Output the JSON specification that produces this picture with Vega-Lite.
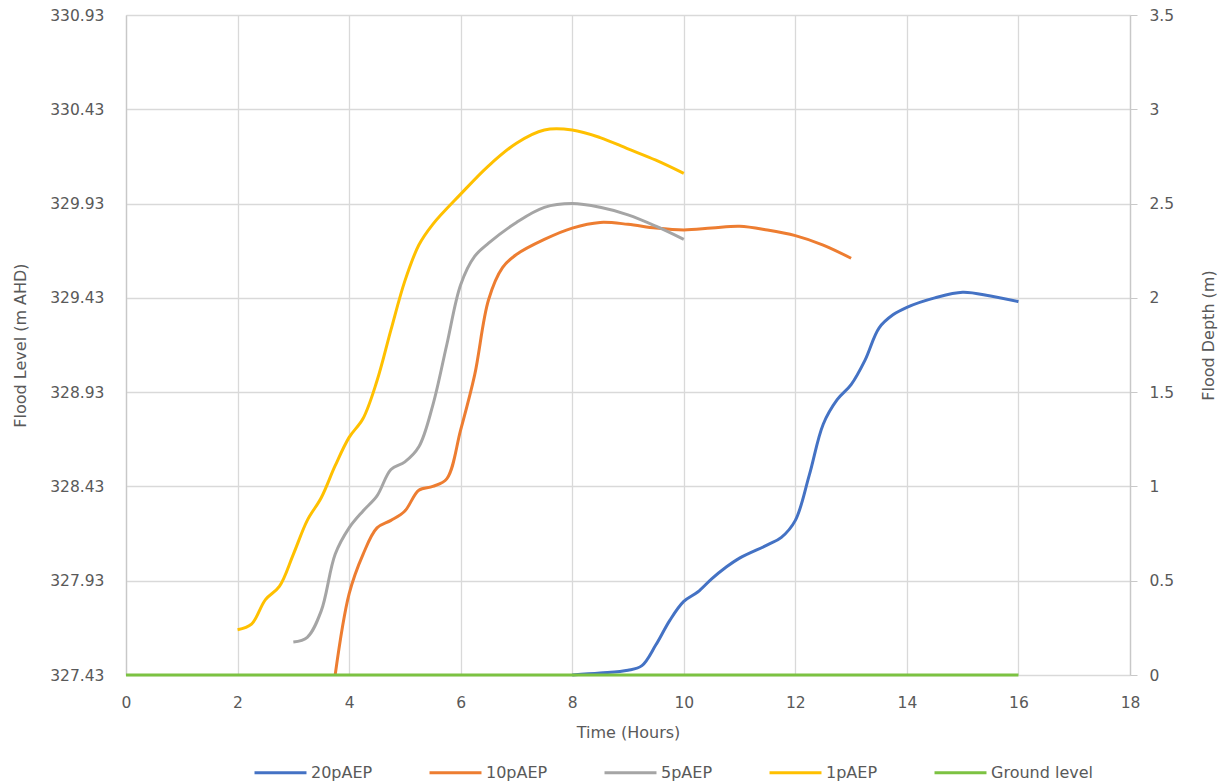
{
  "$schema": "https://vega.github.io/schema/vega-lite/v6.json",
  "width": 1004,
  "height": 660,
  "autosize": "none",
  "padding": {"left": 126, "top": 15, "right": 98, "bottom": 109},
  "background": "white",
  "config": {
    "view": {"stroke": null},
    "font": "DejaVu Sans",
    "axis": {
      "labelColor": "#595959",
      "titleColor": "#595959",
      "labelFontSize": 15.5,
      "titleFontSize": 16,
      "titleFontWeight": "normal",
      "gridColor": "#d9d9d9",
      "gridWidth": 1.3,
      "domainColor": "#c8c8c8",
      "domainWidth": 1.3,
      "tickColor": "#c8c8c8"
    }
  },
  "data": {
    "values": [
      {"series": "20pAEP", "t": 8.0, "depth": 0.0},
      {"series": "20pAEP", "t": 8.5, "depth": 0.01},
      {"series": "20pAEP", "t": 9.0, "depth": 0.025},
      {"series": "20pAEP", "t": 9.25, "depth": 0.05},
      {"series": "20pAEP", "t": 9.5, "depth": 0.16},
      {"series": "20pAEP", "t": 9.75, "depth": 0.29},
      {"series": "20pAEP", "t": 10.0, "depth": 0.39},
      {"series": "20pAEP", "t": 10.25, "depth": 0.44},
      {"series": "20pAEP", "t": 10.5, "depth": 0.51},
      {"series": "20pAEP", "t": 10.75, "depth": 0.57},
      {"series": "20pAEP", "t": 11.0, "depth": 0.62},
      {"series": "20pAEP", "t": 11.5, "depth": 0.69},
      {"series": "20pAEP", "t": 11.75, "depth": 0.73},
      {"series": "20pAEP", "t": 12.0, "depth": 0.82},
      {"series": "20pAEP", "t": 12.25, "depth": 1.06},
      {"series": "20pAEP", "t": 12.5, "depth": 1.33},
      {"series": "20pAEP", "t": 12.75, "depth": 1.46},
      {"series": "20pAEP", "t": 13.0, "depth": 1.54},
      {"series": "20pAEP", "t": 13.25, "depth": 1.67},
      {"series": "20pAEP", "t": 13.5, "depth": 1.84},
      {"series": "20pAEP", "t": 13.75, "depth": 1.91},
      {"series": "20pAEP", "t": 14.0, "depth": 1.95},
      {"series": "20pAEP", "t": 14.5, "depth": 2.0},
      {"series": "20pAEP", "t": 15.0, "depth": 2.03},
      {"series": "20pAEP", "t": 15.5, "depth": 2.01},
      {"series": "20pAEP", "t": 16.0, "depth": 1.98},
      {"series": "10pAEP", "t": 3.75, "depth": 0.0},
      {"series": "10pAEP", "t": 4.0, "depth": 0.43},
      {"series": "10pAEP", "t": 4.25, "depth": 0.64},
      {"series": "10pAEP", "t": 4.5, "depth": 0.78},
      {"series": "10pAEP", "t": 4.75, "depth": 0.82},
      {"series": "10pAEP", "t": 5.0, "depth": 0.87},
      {"series": "10pAEP", "t": 5.25, "depth": 0.98},
      {"series": "10pAEP", "t": 5.5, "depth": 1.0},
      {"series": "10pAEP", "t": 5.75, "depth": 1.04},
      {"series": "10pAEP", "t": 6.0, "depth": 1.3},
      {"series": "10pAEP", "t": 6.25, "depth": 1.59},
      {"series": "10pAEP", "t": 6.5, "depth": 1.99},
      {"series": "10pAEP", "t": 6.75, "depth": 2.16},
      {"series": "10pAEP", "t": 7.0, "depth": 2.23},
      {"series": "10pAEP", "t": 7.5, "depth": 2.31},
      {"series": "10pAEP", "t": 8.0, "depth": 2.37},
      {"series": "10pAEP", "t": 8.5, "depth": 2.4},
      {"series": "10pAEP", "t": 9.0, "depth": 2.39},
      {"series": "10pAEP", "t": 9.5, "depth": 2.37},
      {"series": "10pAEP", "t": 10.0, "depth": 2.36},
      {"series": "10pAEP", "t": 10.5, "depth": 2.37},
      {"series": "10pAEP", "t": 11.0, "depth": 2.38},
      {"series": "10pAEP", "t": 11.5, "depth": 2.36},
      {"series": "10pAEP", "t": 12.0, "depth": 2.33},
      {"series": "10pAEP", "t": 12.5, "depth": 2.28},
      {"series": "10pAEP", "t": 13.0, "depth": 2.21},
      {"series": "5pAEP", "t": 3.0, "depth": 0.175},
      {"series": "5pAEP", "t": 3.25, "depth": 0.2},
      {"series": "5pAEP", "t": 3.5, "depth": 0.34},
      {"series": "5pAEP", "t": 3.75, "depth": 0.64},
      {"series": "5pAEP", "t": 4.0, "depth": 0.78},
      {"series": "5pAEP", "t": 4.25, "depth": 0.87},
      {"series": "5pAEP", "t": 4.5, "depth": 0.95},
      {"series": "5pAEP", "t": 4.75, "depth": 1.09},
      {"series": "5pAEP", "t": 5.0, "depth": 1.13},
      {"series": "5pAEP", "t": 5.25, "depth": 1.21},
      {"series": "5pAEP", "t": 5.5, "depth": 1.43},
      {"series": "5pAEP", "t": 5.75, "depth": 1.75},
      {"series": "5pAEP", "t": 6.0, "depth": 2.07},
      {"series": "5pAEP", "t": 6.25, "depth": 2.22},
      {"series": "5pAEP", "t": 6.5, "depth": 2.29},
      {"series": "5pAEP", "t": 7.0, "depth": 2.4},
      {"series": "5pAEP", "t": 7.5, "depth": 2.48},
      {"series": "5pAEP", "t": 8.0, "depth": 2.5},
      {"series": "5pAEP", "t": 8.5, "depth": 2.48},
      {"series": "5pAEP", "t": 9.0, "depth": 2.44},
      {"series": "5pAEP", "t": 9.5, "depth": 2.38},
      {"series": "5pAEP", "t": 10.0, "depth": 2.31},
      {"series": "1pAEP", "t": 2.0, "depth": 0.24},
      {"series": "1pAEP", "t": 2.25, "depth": 0.27},
      {"series": "1pAEP", "t": 2.5, "depth": 0.4},
      {"series": "1pAEP", "t": 2.75, "depth": 0.47},
      {"series": "1pAEP", "t": 3.0, "depth": 0.64},
      {"series": "1pAEP", "t": 3.25, "depth": 0.82},
      {"series": "1pAEP", "t": 3.5, "depth": 0.94},
      {"series": "1pAEP", "t": 3.75, "depth": 1.11},
      {"series": "1pAEP", "t": 4.0, "depth": 1.26},
      {"series": "1pAEP", "t": 4.25, "depth": 1.36},
      {"series": "1pAEP", "t": 4.5, "depth": 1.56},
      {"series": "1pAEP", "t": 4.75, "depth": 1.83},
      {"series": "1pAEP", "t": 5.0, "depth": 2.09},
      {"series": "1pAEP", "t": 5.25, "depth": 2.28},
      {"series": "1pAEP", "t": 5.5, "depth": 2.39},
      {"series": "1pAEP", "t": 6.0, "depth": 2.55},
      {"series": "1pAEP", "t": 6.5, "depth": 2.7},
      {"series": "1pAEP", "t": 7.0, "depth": 2.82},
      {"series": "1pAEP", "t": 7.5, "depth": 2.89},
      {"series": "1pAEP", "t": 8.0, "depth": 2.89},
      {"series": "1pAEP", "t": 8.5, "depth": 2.85},
      {"series": "1pAEP", "t": 9.0, "depth": 2.79},
      {"series": "1pAEP", "t": 9.5, "depth": 2.73},
      {"series": "1pAEP", "t": 10.0, "depth": 2.66},
      {"series": "Ground level", "t": 0, "depth": 0},
      {"series": "Ground level", "t": 16, "depth": 0}
    ]
  },
  "layer": [
    {
      "mark": {"type": "line", "interpolate": "catmull-rom"},
      "encoding": {
        "x": {
          "field": "t", "type": "quantitative",
          "scale": {"domain": [0, 18], "nice": false},
          "axis": {
            "title": "Time (Hours)",
            "values": [0, 2, 4, 6, 8, 10, 12, 14, 16, 18],
            "format": "d",
            "ticks": false,
            "domain": false,
            "labelFlush": false,
            "labelPadding": 20,
            "titlePadding": 14
          }
        },
        "y": {
          "field": "depth", "type": "quantitative",
          "scale": {"domain": [0, 3.5], "nice": false},
          "axis": {
            "orient": "left",
            "title": "Flood Level (m AHD)",
            "values": [0, 0.5, 1, 1.5, 2, 2.5, 3, 3.5],
            "labelExpr": "format(datum.value + 327.43, '.2f')",
            "ticks": false,
            "labelPadding": 22,
            "titleX": -106,
            "titleY": 330,
            "titleAlign": "center",
            "titleBaseline": "middle"
          }
        },
        "color": {
          "field": "series", "type": "nominal",
          "scale": {
            "domain": ["20pAEP", "10pAEP", "5pAEP", "1pAEP", "Ground level"],
            "range": ["#4472C4", "#ED7D31", "#A5A5A5", "#FFC000", "#7CC242"]
          },
          "legend": {
            "title": null,
            "orient": "none",
            "direction": "horizontal",
            "legendX": 127,
            "legendY": 730,
            "symbolType": "stroke",
            "symbolSize": 2700,
            "symbolStrokeWidth": 4,
            "labelFontSize": 16,
            "labelColor": "#595959",
            "labelOffset": 3,
            "columnPadding": 50
          }
        },
        "strokeWidth": {
          "field": "series", "type": "nominal",
          "scale": {
            "domain": ["20pAEP", "10pAEP", "5pAEP", "1pAEP", "Ground level"],
            "range": [3, 3, 3, 3, 4]
          },
          "legend": null
        }
      }
    },
    {
      "mark": {"type": "line", "opacity": 0},
      "encoding": {
        "x": {"field": "t", "type": "quantitative"},
        "detail": {"field": "series"},
        "y": {
          "field": "depth", "type": "quantitative",
          "scale": {"domain": [0, 3.5], "nice": false},
          "axis": {
            "orient": "right",
            "title": "Flood Depth (m)",
            "values": [0, 0.5, 1, 1.5, 2, 2.5, 3, 3.5],
            "labelExpr": "'' + datum.value",
            "grid": false,
            "ticks": true,
            "tickSize": 7,
            "labelPadding": 12,
            "titleAngle": -90,
            "titleX": 78,
            "titleY": 320,
            "titleAlign": "center",
            "titleBaseline": "middle"
          }
        }
      }
    }
  ],
  "resolve": {"scale": {"y": "independent"}}
}
